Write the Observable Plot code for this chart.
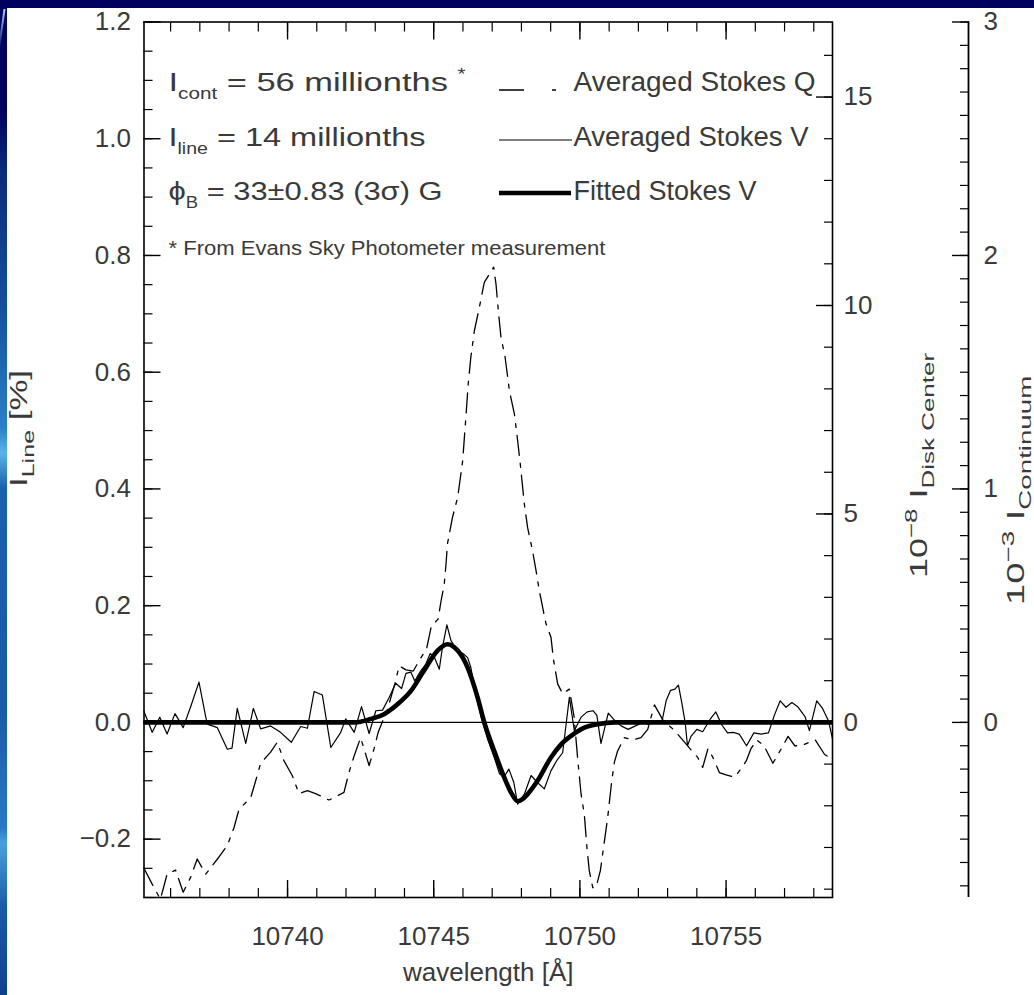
<!DOCTYPE html>
<html>
<head>
<meta charset="utf-8">
<script src="https://cdn.jsdelivr.net/npm/d3@7"></script>
<script src="https://cdn.jsdelivr.net/npm/@observablehq/plot@0.6"></script>
<style>
  html, body { margin: 0; padding: 0; }
  body { width: 1034px; height: 995px; background: #00005e; position: relative; overflow: hidden; }
  #panel { position: absolute; left: 7px; top: 8px; right: 0; bottom: 0; background: #ffffff; }
  #strip { position: absolute; left: 0; top: 108px; width: 7px; height: 887px;
    background: linear-gradient(to bottom, #00005e 0px, #0a2a78 60px, #1550a0 200px, #2a80c8 320px, #5ab4e8 345px, #1a60b0 380px, #1a5aa8 600px, #2a78c8 720px, #4aa0dc 735px, #1a5aa8 800px, #0e4090 887px); }
  #streak { position: absolute; left: 1px; top: 9px; width: 2px; height: 36px; background: linear-gradient(#9fd8ff, rgba(120,190,240,0.2)); transform: skewX(-8deg); }
  #chart { position: absolute; left: 0; top: 0; }
</style>
</head>
<body>
<div id="panel"></div>
<div id="strip"></div>
<div id="streak"></div>
<div id="chart"></div>
<script>
// ---------------- data ----------------
// Averaged Stokes V (thin solid)
const vWave = [10735.08,10735.37,10735.63,10735.88,10736.15,10736.43,10736.68,10736.97,10737.25,10737.60,
  10737.94,10738.10,10738.28,10738.57,10738.83,10739.08,10739.42,10739.76,10740.13,10740.45,
  10740.68,10740.91,10741.19,10741.48,10741.82,10741.99,10742.28,10742.53,10742.79,10743.02,
  10743.25,10743.48,10743.70,10743.90,10744.05,10744.22,10744.35,10744.55,10744.73,10744.88,
  10745.02,10745.19,10745.30,10745.45,10745.59,10745.81,10746.00,10746.16,10746.27,10746.45,
  10746.65,10746.85,10747.07,10747.25,10747.40,10747.57,10747.74,10747.87,10748.10,10748.33,
  10748.55,10748.78,10749.01,10749.20,10749.41,10749.64,10749.81,10750.04,10750.25,10750.45,
  10750.58,10750.72,10750.97,10751.18,10751.41,10751.65,10751.90,10752.15,10752.35,10752.60,
  10752.80,10752.95,10753.10,10753.25,10753.37,10753.48,10753.60,10753.68,10753.80,10754.00,
  10754.20,10754.45,10754.65,10754.85,10755.05,10755.25,10755.45,10755.70,10755.95,10756.20,
  10756.45,10756.65,10756.85,10757.05,10757.25,10757.45,10757.70,10757.85,10758.10,10758.30,
  10758.50,10758.65];
const vVal = [0.020,-0.017,0.009,-0.020,0.015,-0.009,0.026,0.069,-0.003,-0.009,
  -0.046,-0.044,0.024,-0.036,0.024,-0.011,-0.006,-0.017,-0.034,-0.007,
  -0.010,0.053,0.047,-0.043,-0.017,0.006,-0.017,0.027,-0.019,0.020,
  0.021,0.043,0.067,0.058,0.084,0.086,0.071,0.088,0.100,0.118,
  0.112,0.091,0.129,0.167,0.140,0.123,0.118,0.111,0.094,0.045,
  0.004,-0.030,-0.060,-0.088,-0.094,-0.080,-0.103,-0.140,-0.123,-0.091,
  -0.103,-0.114,-0.083,-0.066,-0.052,0.043,-0.014,0.009,0.018,0.020,
  0.012,-0.036,0.016,0.004,-0.006,-0.012,-0.006,0.000,-0.004,0.002,
  0.000,0.037,0.055,0.057,0.064,0.035,0.000,-0.040,-0.024,-0.012,
  -0.016,0.005,0.018,-0.004,-0.018,-0.017,-0.020,-0.040,-0.018,-0.020,
  -0.018,0.012,0.037,0.026,0.034,0.027,0.010,-0.014,0.037,0.024,
  0.003,-0.030];

// Averaged Stokes Q (dash-dot)
const qWave = [10735.08,10735.37,10735.65,10735.88,10736.17,10736.43,10736.68,10736.91,10737.20,10737.65,
  10737.94,10738.17,10738.34,10738.74,10738.91,10739.08,10739.42,10739.65,10739.88,10740.16,
  10740.39,10740.68,10740.96,10741.42,10741.93,10742.10,10742.28,10742.50,10742.79,10742.96,
  10743.10,10743.42,10743.67,10743.82,10744.05,10744.30,10744.55,10744.75,10744.92,10745.15,
  10745.24,10745.36,10745.42,10745.47,10745.64,10745.82,10745.99,10746.10,10746.18,10746.27,
  10746.39,10746.56,10746.73,10747.05,10747.13,10747.21,10747.30,10747.44,10747.59,10747.76,
  10747.87,10747.96,10748.10,10748.21,10748.38,10748.50,10748.61,10748.84,10749.01,10749.10,
  10749.24,10749.41,10749.64,10749.80,10749.92,10750.04,10750.15,10750.24,10750.32,10750.44,
  10750.55,10750.70,10750.84,10750.95,10751.09,10751.18,10751.29,10751.52,10751.81,10752.09,
  10752.32,10752.55,10752.85,10753.20,10753.60,10753.85,10754.03,10754.20,10754.38,10754.55,
  10754.77,10755.00,10755.29,10755.50,10755.69,10755.85,10756.05,10756.30,10756.60,10756.89,
  10757.12,10757.35,10757.57,10757.80,10758.05,10758.37,10758.60];
const qVal = [-0.249,-0.277,-0.303,-0.260,-0.253,-0.291,-0.266,-0.234,-0.260,-0.231,
  -0.211,-0.180,-0.149,-0.129,-0.100,-0.070,-0.051,-0.034,-0.066,-0.091,
  -0.122,-0.117,-0.122,-0.133,-0.120,-0.086,-0.057,-0.026,-0.074,-0.045,
  -0.017,0.023,0.066,0.097,0.090,0.088,0.110,0.125,0.165,0.177,
  0.205,0.237,0.271,0.306,0.351,0.386,0.448,0.523,0.580,0.626,
  0.671,0.711,0.754,0.780,0.751,0.705,0.660,0.626,0.568,0.528,
  0.483,0.443,0.374,0.334,0.294,0.260,0.226,0.169,0.146,0.106,
  0.066,0.049,0.057,0.010,-0.060,-0.123,-0.157,-0.214,-0.254,-0.283,
  -0.283,-0.254,-0.203,-0.163,-0.100,-0.068,-0.049,-0.026,-0.030,-0.026,
  -0.012,0.030,0.003,-0.012,-0.035,-0.050,-0.060,-0.077,-0.045,-0.060,
  -0.086,-0.090,-0.094,-0.080,-0.066,-0.045,-0.030,-0.040,-0.070,-0.045,
  -0.024,-0.040,-0.040,-0.035,-0.030,-0.055,-0.062];

// Fitted Stokes V (thick)
const fitWave = [10735.09,10742.30,10742.85,10743.30,10743.76,10744.22,10744.67,10745.13,10745.47,10745.82,
  10746.16,10746.50,10746.73,10747.07,10747.41,10747.70,10747.87,10748.05,10748.21,10748.55,
  10749.01,10749.35,10749.70,10750.15,10750.60,10751.20,10758.64];
const fitVal = [0,0,0.006,0.014,0.031,0.054,0.089,0.123,0.134,0.123,
  0.094,0.043,0.000,-0.049,-0.094,-0.125,-0.135,-0.131,-0.123,-0.100,
  -0.060,-0.038,-0.023,-0.009,-0.003,0,0];

// axes
const xDomain = [10735.09, 10758.64];
const yDomain = [-0.3, 1.2];
const leftTicks = [-0.2, 0, 0.2, 0.4, 0.6, 0.8, 1.0, 1.2];
const leftTickLabels = ["\u22120.2", "0.0", "0.2", "0.4", "0.6", "0.8", "1.0", "1.2"];
const waveTicks = [10740, 10745, 10750, 10755];
const waveTickLabels = ["10740", "10745", "10750", "10755"];
const diskTicks = [0, 5, 10, 15];
const diskTickLabels = ["0", "5", "10", "15"];
const contTicks = [0, 1, 2, 3];
const contTickLabels = ["0", "1", "2", "3"];
const DISK_PER_PCT = 14;   // I_line = 14 millionths -> 1 % of I_line = 14e-8 I_disk
const CONT_PER_PCT = 2.5;  // 14/56 -> 1 % of I_line = 2.5e-3 I_cont

// ---------------- layout ----------------
const W = 1034, H = 995;
const ML = 143.5, MT = 21.5, FR = 832, FB = 897;
const MR = W - FR, MB = H - FB;
const TXT = "#3a3a3a";
const FS = 26;
const AX3 = 136; // third axis offset to the right of the frame

// horizontal text lengths (px) matched to the reference (wide vector font)
const textLen = {
  "I_{cont} = 56 millionths ^{*}": 297,
  "I_{line} = 14 millionths": 257,
  "\u03d5_{B} = 33\u00b10.83 (3\u03c3) G": 274,
  "* From Evans Sky Photometer measurement": 437,
  "Averaged Stokes Q": 242,
  "Averaged Stokes V": 235
};
// rotated titles appear stretched along their direction
const stretch = {
  "I_{Line} [%]": 1.45,
  "10^{\u22128} I_{Disk Center}": 1.5,
  "10^{\u22123} I_{Continuum}": 1.6
};

const vData = vWave.map((w, i) => ({w, v: vVal[i]}));
const qData = qWave.map((w, i) => ({w, v: qVal[i]}));
const fitData = fitWave.map((w, i) => ({w, v: fitVal[i]}));

const leftMinor = d3.range(-6, 25).map(k => k * 0.05);
const waveMinor = d3.range(10736, 10759);
const diskMinor = d3.range(-4, 17).map(t => t / DISK_PER_PCT);
const contMinor = d3.range(-7, 31).map(t => t / 10 / CONT_PER_PCT);

const lookup = (vals, labels, scale = 1) => d => {
  const i = vals.findIndex(t => Math.abs(t / scale - d) < 1e-9);
  return i < 0 ? "" : labels[i];
};
const none = () => "";

const annot = (text, x, y, opts = {}) => Plot.text([text], {
  frameAnchor: "top-left", dx: x - ML, dy: y - MT, text: d => d,
  textAnchor: "start", lineAnchor: "middle", fontSize: FS, fill: TXT, ...opts
});
const vtitle = (text, frameAnchor, x, y) => Plot.text([text], {
  frameAnchor, dx: x - (frameAnchor === "left" ? ML : FR), dy: y - (MT + FB) / 2,
  rotate: -90, text: d => d, fontSize: 24, fill: TXT, textAnchor: "middle", lineAnchor: "middle"
});

const plot = Plot.plot({
  width: W, height: H,
  marginLeft: ML, marginRight: MR, marginTop: MT, marginBottom: MB,
  x: {domain: xDomain},
  y: {domain: yDomain},
  style: {background: "transparent", fontFamily: "'Liberation Sans', Arial, sans-serif", overflow: "visible"},
  marks: [
    Plot.ruleY([0], {stroke: "black", strokeWidth: 1.3}),
    Plot.line(qData, {x: "w", y: "v", stroke: "black", strokeWidth: 1.3, strokeDasharray: "20,8,4,8", clip: true}),
    Plot.line(vData, {x: "w", y: "v", stroke: "black", strokeWidth: 1.2, clip: true}),
    Plot.line(fitData, {x: "w", y: "v", stroke: "black", strokeWidth: 4.6, curve: "monotone-x", clip: true}),
    Plot.frame({stroke: "black", strokeWidth: 1.6}),
    // left axis (ticks inward)
    Plot.axisY({anchor: "left", ticks: leftTicks, tickSize: 17, dx: 17, tickPadding: 13, tickFormat: lookup(leftTicks, leftTickLabels), fontSize: FS, fill: TXT, stroke: "black", strokeWidth: 1.4, label: null}),
    Plot.axisY({anchor: "left", ticks: leftMinor, tickSize: 9, dx: 9, tickFormat: none, stroke: "black", strokeWidth: 1.2, label: null}),
    // bottom + top axes (ticks inward)
    Plot.axisX({anchor: "bottom", ticks: waveTicks, tickSize: 17, dy: -17, tickPadding: 29, tickFormat: lookup(waveTicks, waveTickLabels), fontSize: FS, fill: TXT, stroke: "black", strokeWidth: 1.4, label: null}),
    Plot.axisX({anchor: "bottom", ticks: waveMinor, tickSize: 9, dy: -9, tickFormat: none, stroke: "black", strokeWidth: 1.2, label: null}),
    Plot.axisX({anchor: "top", ticks: waveTicks, tickSize: 17, dy: 17, tickFormat: none, stroke: "black", strokeWidth: 1.4, label: null}),
    Plot.axisX({anchor: "top", ticks: waveMinor, tickSize: 9, dy: 9, tickFormat: none, stroke: "black", strokeWidth: 1.2, label: null}),
    // right axis on frame: 10^-8 I_Disk Center
    Plot.axisY({anchor: "right", ticks: diskTicks.map(t => t / DISK_PER_PCT), tickSize: 17, dx: -17, tickPadding: 11, tickFormat: lookup(diskTicks, diskTickLabels, DISK_PER_PCT), fontSize: FS, fill: TXT, stroke: "black", strokeWidth: 1.4, label: null}),
    Plot.axisY({anchor: "right", ticks: diskMinor, tickSize: 9, dx: -9, tickFormat: none, stroke: "black", strokeWidth: 1.2, label: null}),
    // detached third axis: 10^-3 I_Continuum
    Plot.ruleX([xDomain[1]], {dx: AX3, stroke: "black", strokeWidth: 1.8}),
    Plot.axisY({anchor: "right", ticks: contTicks.map(t => t / CONT_PER_PCT), tickSize: 17, dx: AX3 - 17, tickPadding: 15, tickFormat: lookup(contTicks, contTickLabels, CONT_PER_PCT), fontSize: FS, fill: TXT, stroke: "black", strokeWidth: 1.4, label: null}),
    Plot.axisY({anchor: "right", ticks: contMinor, tickSize: 9, dx: AX3 - 9, tickFormat: none, stroke: "black", strokeWidth: 1.2, label: null}),
    // axis titles
    vtitle("I_{Line} [%]", "left", 19, 428),
    Plot.text(["wavelength [\u00c5]"], {frameAnchor: "bottom", dy: 972 - FB, text: d => d, fontSize: FS, fill: TXT, textAnchor: "middle", lineAnchor: "middle"}),
    vtitle("10^{\u22128} I_{Disk Center}", "right", 919, 465),
    vtitle("10^{\u22123} I_{Continuum}", "right", 1016, 490),
    // annotations & legend labels
    annot("I_{cont} = 56 millionths ^{*}", 168, 82),
    annot("I_{line} = 14 millionths", 168, 137),
    annot("\u03d5_{B} = 33\u00b10.83 (3\u03c3) G", 168, 191),
    annot("* From Evans Sky Photometer measurement", 168, 248, {fontSize: 20}),
    annot("Averaged Stokes Q", 573, 82, {fontSize: 27}),
    annot("Averaged Stokes V", 573, 137, {fontSize: 27}),
    annot("Fitted Stokes V", 573, 191, {fontSize: 27})
  ]
});

document.getElementById("chart").appendChild(plot);

// legend swatches
const svg = d3.select(plot);
const sw = svg.append("g").attr("stroke", "black").attr("fill", "none");
sw.append("line").attr("x1", 499).attr("x2", 571).attr("y1", 90).attr("y2", 90).attr("stroke-width", 1.3).attr("stroke-dasharray", "25,28,4,20");
sw.append("line").attr("x1", 499).attr("x2", 572).attr("y1", 140).attr("y2", 140).attr("stroke-width", 1.2);
sw.append("line").attr("x1", 499).attr("x2", 571).attr("y1", 193).attr("y2", 193).attr("stroke-width", 4.6);

// sub/superscript markup -> tspans, matched text lengths, stretched rotated titles
const NS = "http://www.w3.org/2000/svg";
plot.querySelectorAll("text").forEach(el => {
  const s = el.textContent;
  const tr = el.getAttribute("transform") || "";
  const rotated = tr.includes("rotate");
  if (/[_^]\{/.test(s)) {
    const fs = parseFloat(getComputedStyle(el).fontSize);
    const ratio = rotated ? 0.72 : 0.6;
    const parts = [];
    const re = /([_^])\{([^}]*)\}/g;
    let last = 0, m;
    while ((m = re.exec(s))) {
      if (m.index > last) parts.push({t: s.slice(last, m.index), k: 0});
      parts.push({t: m[2], k: m[1] === "_" ? 1 : -1});
      last = re.lastIndex;
    }
    if (last < s.length) parts.push({t: s.slice(last), k: 0});
    el.textContent = "";
    let cur = 0;
    parts.forEach(p => {
      const target = p.k === 1 ? fs * 0.3 : p.k === -1 ? -fs * 0.42 : 0;
      const ts = document.createElementNS(NS, "tspan");
      ts.textContent = p.t;
      if (target !== cur) ts.setAttribute("dy", (target - cur).toFixed(2));
      if (p.k) ts.setAttribute("font-size", (fs * ratio).toFixed(1));
      el.appendChild(ts);
      cur = target;
    });
  }
  if (textLen[s]) {
    el.setAttribute("textLength", textLen[s]);
    el.setAttribute("lengthAdjust", "spacingAndGlyphs");
  }
  if (rotated && stretch[s]) el.setAttribute("transform", tr + ` scale(${stretch[s]},1)`);
});
</script>
</body>
</html>
